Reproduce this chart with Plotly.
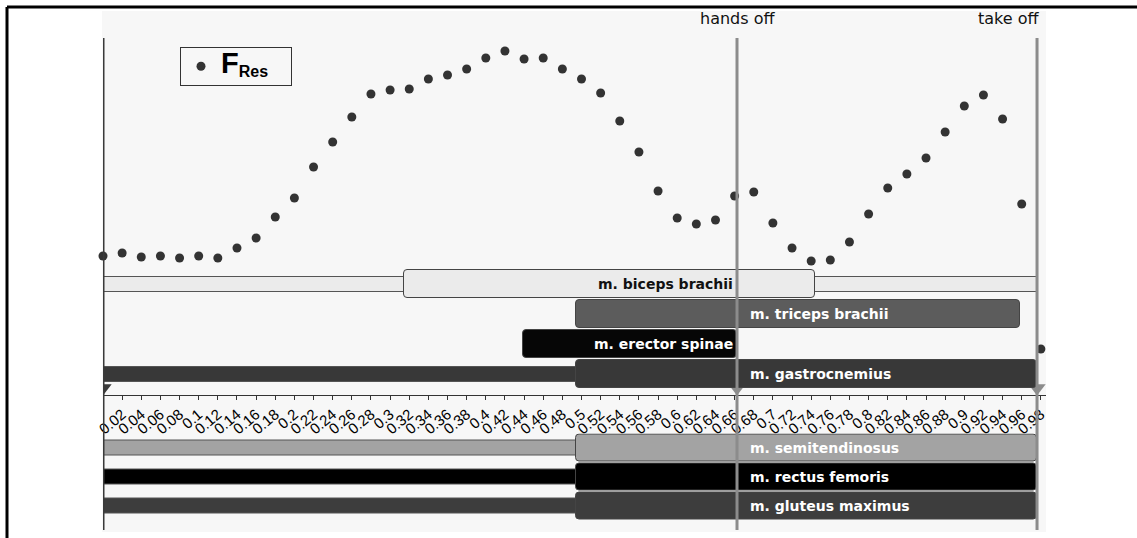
import plotly.graph_objects as go

# ---------------- data ----------------
time = [0.00, 0.02, 0.04, 0.06, 0.08, 0.10, 0.12, 0.14, 0.16, 0.18,
        0.20, 0.22, 0.24, 0.26, 0.28, 0.30, 0.32, 0.34, 0.36, 0.38,
        0.40, 0.42, 0.44, 0.46, 0.48, 0.50, 0.52, 0.54, 0.56, 0.58,
        0.60, 0.62, 0.64, 0.66, 0.68, 0.70, 0.72, 0.74, 0.76, 0.78,
        0.80, 0.82, 0.84, 0.86, 0.88, 0.90, 0.92, 0.94, 0.96, 0.98]
f_res = [139, 142, 138, 139, 137, 139, 137, 147, 157, 178,
         197, 228, 253, 278, 301, 305, 306, 316, 320, 326,
         337, 344, 336, 337, 326, 316, 302, 274, 243, 204,
         177, 171, 175, 199, 203, 172, 147, 134, 135, 153,
         181, 207, 221, 237, 263, 289, 300, 276, 191, 46]

tick_labels = ["0.02", "0.04", "0.06", "0.08", "0.1", "0.12", "0.14", "0.16", "0.18", "0.2",
               "0.22", "0.24", "0.26", "0.28", "0.3", "0.32", "0.34", "0.36", "0.38", "0.4",
               "0.42", "0.44", "0.46", "0.48", "0.5", "0.52", "0.54", "0.56", "0.58", "0.6",
               "0.62", "0.64", "0.66", "0.68", "0.7", "0.72", "0.74", "0.76", "0.78", "0.8",
               "0.82", "0.84", "0.86", "0.88", "0.9", "0.92", "0.94", "0.96", "0.98"]

upper_muscles = ["m. biceps brachii", "m. triceps brachii", "m. erector spinae", "m. gastrocnemius"]
upper_on_start = [0.315, 0.494, 0.439, 0.494]
upper_on_end = [0.744, 0.958, 0.6625, 0.976]
upper_low_start = [0.0, None, None, 0.0]
upper_low_end = [0.976, None, None, 0.494]

lower_muscles = ["m. semitendinosus", "m. rectus femoris", "m. gluteus maximus"]
lower_on_start = [0.494, 0.494, 0.494]
lower_on_end = [0.976, 0.976, 0.976]
lower_low_start = [0.0, 0.0, 0.0]
lower_low_end = [0.494, 0.494, 0.494]

event_names = ["start", "hands off", "take off"]
event_times = [0.0, 0.6625, 0.976]

# ---------------- style ----------------
W, H = 1137, 538
def px_x(p): return p / W
def px_y(p): return 1 - p / H

muscle_fill = {
    "m. biceps brachii": "#ebebeb",
    "m. triceps brachii": "#5c5c5c",
    "m. erector spinae": "#060606",
    "m. gastrocnemius": "#383838",
    "m. semitendinosus": "#a3a3a3",
    "m. rectus femoris": "#000000",
    "m. gluteus maximus": "#3d3d3d",
}
muscle_text = {m: ("#111111" if m == "m. biceps brachii" else "#ffffff") for m in muscle_fill}
label_side = {
    "m. biceps brachii": "before",
    "m. triceps brachii": "after",
    "m. erector spinae": "before",
    "m. gastrocnemius": "after",
    "m. semitendinosus": "after",
    "m. rectus femoris": "after",
    "m. gluteus maximus": "after",
}
event_color = ["#3a3a3a", "#8c8c8c", "#8c8c8c"]

x_range = [0, (1046 - 103) / 957]
fig = go.Figure()

def add_bars(names, on_s, on_e, low_s, low_e, yax, tall, thin):
    for n, s, e in zip(names, low_s, low_e):
        if s is None:
            continue
        fig.add_trace(go.Bar(orientation="h", y=[n], x=[e - s], base=[s], width=thin,
                             yaxis=yax, showlegend=False, hoverinfo="skip",
                             marker=dict(color=muscle_fill[n], line=dict(color="#555555", width=1))))
    for n, s, e in zip(names, on_s, on_e):
        fig.add_trace(go.Bar(orientation="h", y=[n], x=[e - s], base=[s], width=tall,
                             yaxis=yax, showlegend=False, hoverinfo="skip",
                             marker=dict(color=muscle_fill[n], cornerradius=4,
                                         line=dict(color="#444444", width=1))))

add_bars(upper_muscles, upper_on_start, upper_on_end, upper_low_start, upper_low_end, "y2", 0.93, 0.5)
add_bars(lower_muscles, lower_on_start, lower_on_end, lower_low_start, lower_low_end, "y3", 0.95, 0.52)

legend_name = ("<span style='font-size:29px'><b>F</b></span>"
               "<sub><span style='font-size:16px'><b>Res</b></span></sub>"
               "<span style='font-size:16px'>&nbsp;&nbsp;&nbsp;&nbsp;</span>")
fig.add_trace(go.Scatter(x=time, y=f_res, mode="markers", name=legend_name,
                         marker=dict(color="#333333", size=9), cliponaxis=False,
                         yaxis="y", hoverinfo="skip"))

fig.add_trace(go.Scatter(x=event_times, y=[7] * len(event_times), mode="markers",
                         marker=dict(symbol="triangle-down", size=15, color=event_color),
                         showlegend=False, yaxis="y", hoverinfo="skip"))

shapes = []
# panel background
shapes.append(dict(type="rect", xref="paper", yref="paper", x0=px_x(102), x1=px_x(1046),
                   y0=px_y(532), y1=px_y(11), fillcolor="#f7f7f7", line=dict(width=0), layer="below"))
# outer frame
shapes.append(dict(type="line", xref="paper", yref="paper", x0=px_x(7), x1=1, y0=px_y(7), y1=px_y(7),
                   line=dict(color="#000000", width=3)))
shapes.append(dict(type="line", xref="paper", yref="paper", x0=px_x(7), x1=px_x(7), y0=0, y1=px_y(7),
                   line=dict(color="#000000", width=3)))
for t, c in zip(event_times, event_color):
    shapes.append(dict(type="line", xref="x", yref="paper", x0=t, x1=t, y0=px_y(530), y1=px_y(38),
                       line=dict(color=c, width=3), layer="above"))

annotations = []
hands_off = event_times[1]
for name, t in zip(event_names[1:], event_times[1:]):
    anchor = "center" if name == "hands off" else "right"
    annotations.append(dict(x=t if anchor == "center" else t + 0.004, xref="x", y=px_y(18), yref="paper",
                            text=name, showarrow=False, xanchor=anchor, yanchor="middle",
                            font=dict(family="DejaVu Sans", size=16, color="#111111")))
for names, yref in ((upper_muscles, "y2"), (lower_muscles, "y3")):
    for n in names:
        before = label_side[n] == "before"
        annotations.append(dict(x=hands_off - 0.002 if before else hands_off + 0.011, xref="x",
                                y=n, yref=yref, text="<b>" + n + "</b>", showarrow=False,
                                xanchor="right" if before else "left", yanchor="middle",
                                font=dict(family="DejaVu Sans", size=14, color=muscle_text[n])))

fig.update_layout(
    width=W, height=H, margin=dict(l=0, r=0, t=0, b=0, autoexpand=False),
    paper_bgcolor="#ffffff", plot_bgcolor="rgba(0,0,0,0)",
    barmode="overlay", bargap=0,
    shapes=shapes, annotations=annotations,
    showlegend=True,
    legend=dict(x=px_x(180), y=px_y(47), xanchor="left", yanchor="top",
                bgcolor="#f7f7f7", bordercolor="#333333", borderwidth=1,
                font=dict(family="Liberation Sans", size=18, color="#000000")),
    xaxis=dict(domain=[px_x(103), px_x(1046)], range=x_range, anchor="y", automargin=False,
               tickvals=[float(v) for v in tick_labels], ticktext=tick_labels,
               tickangle=-40, ticks="outside", ticklen=4, tickcolor="#333333",
               showline=True, linecolor="#333333", linewidth=1, showgrid=False, zeroline=False,
               tickfont=dict(family="Liberation Sans", size=15, color="#000000")),
    yaxis=dict(domain=[px_y(395), px_y(38)], range=[0, 357], visible=False),
    yaxis2=dict(domain=[px_y(389), px_y(269)], anchor="x", visible=False,
                categoryorder="array", categoryarray=upper_muscles, range=[3.5, -0.5]),
    yaxis3=dict(domain=[px_y(520.5), px_y(433.5)], anchor="x", visible=False,
                categoryorder="array", categoryarray=lower_muscles, range=[2.5, -0.5]),
)

fig.write_html("out.html")
